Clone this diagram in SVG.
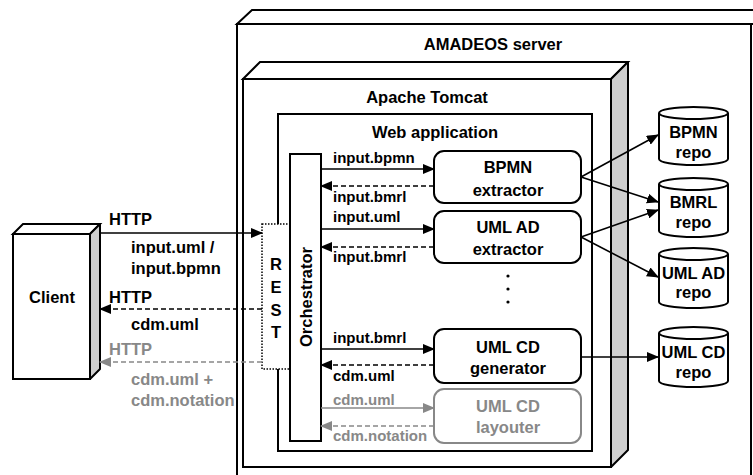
<svg xmlns="http://www.w3.org/2000/svg" width="753" height="475" viewBox="0 0 753 475">
<style>
text{font-family:"Liberation Sans",Arial,sans-serif;font-weight:bold;fill:#000}
.t{font-size:16.5px}
.c{text-anchor:middle}
.s{font-size:15px}
.g{fill:#888}
.box{fill:#fff;stroke:#000;stroke-width:2}
.side{fill:#cfcfcf;stroke:#000;stroke-width:2;stroke-linejoin:round}
.ln{fill:none;stroke:#000;stroke-width:1.6}
.gl{fill:none;stroke:#888;stroke-width:1.6}
.d{stroke-dasharray:5,3}
.rb{fill:#fff;stroke:#000;stroke-width:2}
.rbg{fill:#fff;stroke:#888;stroke-width:2}
</style>
<defs>
<marker id="ah" markerUnits="userSpaceOnUse" markerWidth="12" markerHeight="10" refX="11" refY="5" orient="auto"><path d="M0,0 L12,5 L0,10 z" fill="#000"/></marker>
<marker id="ahg" markerUnits="userSpaceOnUse" markerWidth="12" markerHeight="10" refX="11" refY="5" orient="auto"><path d="M0,0 L12,5 L0,10 z" fill="#888"/></marker>
</defs>

<g id="server">
<polygon class="box" points="237,24 252,10 770,10 755,24"/>
<rect class="box" x="237" y="24" width="514" height="470"/>
<text class="t c" x="493" y="50">AMADEOS server</text>
</g>

<g id="tomcat">
<polygon class="box" points="243,79 260,62 628,62 611,79"/>
<polygon class="side" points="611,79 628,62 628,450 611,467"/>
<rect class="box" x="243" y="79" width="368" height="388"/>
<text class="t c" x="427" y="103">Apache Tomcat</text>
</g>

<g id="webapp">
<rect class="box" x="278" y="114" width="314" height="337"/>
<text class="t c" x="435" y="138">Web application</text>
</g>

<g id="client">
<polygon class="box" points="13,234 23,224 100,224 90,234"/>
<polygon class="side" points="90,234 100,224 100,369 90,379"/>
<rect class="box" x="13" y="234" width="77" height="145"/>
<text class="t c" x="52" y="303">Client</text>
</g>

<g id="rest">
<rect x="262" y="224" width="28" height="145" fill="#fff" stroke="#000" stroke-width="1.5" stroke-dasharray="1.5,1.5"/>
<text class="t c" x="276" y="270">R</text>
<text class="t c" x="276" y="293">E</text>
<text class="t c" x="276" y="316">S</text>
<text class="t c" x="276" y="338">T</text>
</g>

<g id="orchestrator">
<rect class="box" x="290" y="154" width="31" height="287"/>
<text class="t c" transform="translate(312,297) rotate(-90)">Orchestrator</text>
</g>

<g id="bpmn-extractor">
<rect class="rb" x="434" y="151" width="147" height="52" rx="10"/>
<text class="t c" x="508" y="173">BPMN</text>
<text class="t c" x="508" y="196">extractor</text>
</g>

<g id="umlad-extractor">
<rect class="rb" x="434" y="211" width="147" height="52" rx="10"/>
<text class="t c" x="508" y="233">UML AD</text>
<text class="t c" x="508" y="255">extractor</text>
</g>

<g id="dots">
<circle cx="508" cy="276" r="1.6"/>
<circle cx="508" cy="289" r="1.6"/>
<circle cx="508" cy="302" r="1.6"/>
</g>

<g id="umlcd-generator">
<rect class="rb" x="434" y="329" width="147" height="54" rx="10"/>
<text class="t c" x="508" y="353">UML CD</text>
<text class="t c" x="508" y="374">generator</text>
</g>

<g id="umlcd-layouter">
<rect class="rbg" x="434" y="389" width="147" height="54" rx="10"/>
<text class="t c g" x="508" y="412">UML CD</text>
<text class="t c g" x="508" y="433">layouter</text>
</g>

<g id="bpmn-repo">
<path class="box" d="M659,113 v46 a34.5,6 0 0 0 69,0 v-46"/>
<ellipse class="box" cx="693.5" cy="113" rx="34.5" ry="6"/>
<text class="t c" x="693.5" y="138">BPMN</text>
<text class="t c" x="693.5" y="158">repo</text>
</g>

<g id="bmrl-repo">
<path class="box" d="M659,184 v47 a34.5,6 0 0 0 69,0 v-47"/>
<ellipse class="box" cx="693.5" cy="184" rx="34.5" ry="6"/>
<text class="t c" x="693.5" y="208">BMRL</text>
<text class="t c" x="693.5" y="228">repo</text>
</g>

<g id="umlad-repo">
<path class="box" d="M659,254 v48 a34.5,6 0 0 0 69,0 v-48"/>
<ellipse class="box" cx="693.5" cy="254" rx="34.5" ry="6"/>
<text class="t c" x="693.5" y="279">UML AD</text>
<text class="t c" x="693.5" y="298">repo</text>
</g>

<g id="umlcd-repo">
<path class="box" d="M659,333 v48 a34.5,6 0 0 0 69,0 v-48"/>
<ellipse class="box" cx="693.5" cy="333" rx="34.5" ry="6"/>
<text class="t c" x="693.5" y="358">UML CD</text>
<text class="t c" x="693.5" y="378">repo</text>
</g>

<g id="connectors">
<line class="ln" x1="100" y1="233" x2="262" y2="233" marker-end="url(#ah)"/>
<line class="ln d" x1="262" y1="309" x2="100" y2="309" marker-end="url(#ah)"/>
<line class="gl d" x1="262" y1="362" x2="100" y2="362" marker-end="url(#ahg)"/>
<text class="t" x="109" y="225">HTTP</text>
<text class="t" x="131" y="253">input.uml /</text>
<text class="t" x="131" y="274">input.bpmn</text>
<text class="t" x="109" y="303">HTTP</text>
<text class="t" x="131" y="330">cdm.uml</text>
<text class="t g" x="109" y="355">HTTP</text>
<text class="t g" x="131" y="385">cdm.uml +</text>
<text class="t g" x="131" y="406">cdm.notation</text>

<line class="ln" x1="321" y1="169" x2="434" y2="169" marker-end="url(#ah)"/>
<line class="ln d" x1="434" y1="186" x2="321" y2="186" marker-end="url(#ah)"/>
<text class="s" x="333" y="163">input.bpmn</text>
<text class="s" x="333" y="202">input.bmrl</text>

<line class="ln" x1="321" y1="229" x2="434" y2="229" marker-end="url(#ah)"/>
<line class="ln d" x1="434" y1="247" x2="321" y2="247" marker-end="url(#ah)"/>
<text class="s" x="333" y="222">input.uml</text>
<text class="s" x="333" y="262">input.bmrl</text>

<line class="ln" x1="321" y1="349" x2="434" y2="349" marker-end="url(#ah)"/>
<line class="ln d" x1="434" y1="365" x2="321" y2="365" marker-end="url(#ah)"/>
<text class="s" x="333" y="343">input.bmrl</text>
<text class="s" x="333" y="381">cdm.uml</text>

<line class="gl" x1="321" y1="408" x2="434" y2="408" marker-end="url(#ahg)"/>
<line class="gl d" x1="434" y1="426" x2="321" y2="426" marker-end="url(#ahg)"/>
<text class="s g" x="333" y="405">cdm.uml</text>
<text class="s g" x="333" y="441">cdm.notation</text>

<line class="ln" x1="581" y1="177" x2="658" y2="135" marker-end="url(#ah)"/>
<line class="ln" x1="581" y1="177" x2="658" y2="202" marker-end="url(#ah)"/>
<line class="ln" x1="581" y1="237" x2="658" y2="210" marker-end="url(#ah)"/>
<line class="ln" x1="581" y1="237" x2="658" y2="277" marker-end="url(#ah)"/>
<line class="ln" x1="581" y1="357" x2="658" y2="357" marker-end="url(#ah)"/>
</g>
</svg>
